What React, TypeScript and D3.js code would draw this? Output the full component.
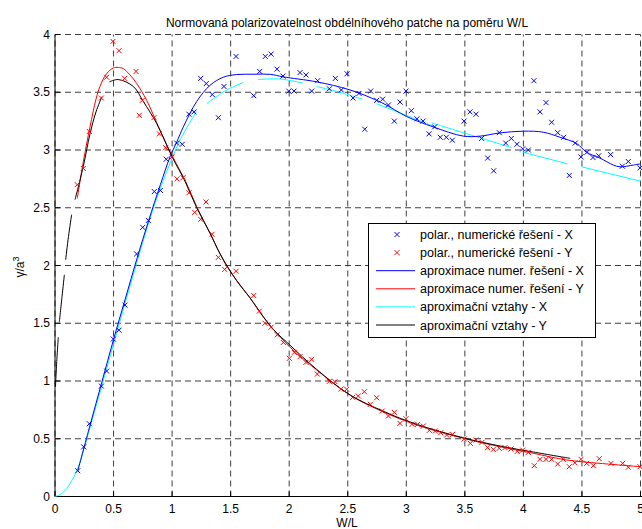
import React from 'react';
import * as d3 from 'd3';

type P = [number, number];

const titleText = 'Normovaná polarizovatelnost obdélníhového patche na poměru W/L';
const xLabel = 'W/L';
const xTicks = [0, 0.5, 1, 1.5, 2, 2.5, 3, 3.5, 4, 4.5, 5];
const yTicks = [0, 0.5, 1, 1.5, 2, 2.5, 3, 3.5, 4];

const legendLabels = [
  'polar., numerické řešení - X',
  'polar., numerické řešení - Y',
  'aproximace numer. řešení - X',
  'aproximace numer. řešení - Y',
  'aproximační vztahy - X',
  'aproximační vztahy - Y',
];

// numerical solution, X polarization (blue crosses)
const numX: P[] = [
  [0.194, 0.223], [0.245, 0.43], [0.293, 0.63], [0.396, 0.956], [0.441, 1.086], [0.498, 1.363],
  [0.547, 1.44], [0.598, 1.657], [0.697, 2.1], [0.749, 2.33], [0.797, 2.39], [0.848, 2.64],
  [0.9, 2.65], [0.95, 2.92], [1.039, 3.06], [1.087, 3.05], [1.144, 3.31], [1.187, 3.33],
  [1.244, 3.62], [1.292, 3.575], [1.343, 3.48], [1.395, 3.28], [1.443, 3.55], [1.546, 3.81],
  [1.697, 3.47], [1.748, 3.68], [1.796, 3.81], [1.845, 3.83], [1.896, 3.7], [1.947, 3.64],
  [1.996, 3.51], [2.041, 3.51], [2.092, 3.67], [2.143, 3.65], [2.192, 3.51], [2.243, 3.6],
  [2.343, 3.53], [2.394, 3.62], [2.445, 3.52], [2.494, 3.66], [2.545, 3.45], [2.596, 3.49],
  [2.645, 3.18], [2.696, 3.51], [2.747, 3.43], [2.798, 3.44], [2.847, 3.39], [2.898, 3.25],
  [2.947, 3.415], [2.997, 3.51], [3.043, 3.34], [3.091, 3.27], [3.143, 3.25], [3.194, 3.14],
  [3.242, 3.2], [3.29, 3.11], [3.342, 3.11], [3.393, 3.085], [3.493, 3.25], [3.544, 3.33],
  [3.595, 3.31], [3.643, 3.1], [3.695, 2.93], [3.746, 2.82], [3.794, 3.15], [3.849, 3.06],
  [3.897, 3.1], [3.945, 3.05], [3.994, 3.01], [4.042, 3.0], [4.09, 3.6], [4.142, 3.33],
  [4.193, 3.41], [4.241, 3.24], [4.293, 3.15], [4.344, 3.11], [4.392, 2.78], [4.443, 3.06],
  [4.492, 2.94], [4.543, 2.98], [4.594, 2.935], [4.643, 2.95], [4.745, 2.96], [4.845, 2.86],
  [4.896, 2.9], [4.996, 2.845],
];

// numerical solution, Y polarization (red crosses)
const numY: P[] = [
  [0.19, 2.7], [0.242, 2.84], [0.293, 3.16], [0.396, 3.45], [0.441, 3.63], [0.495, 3.94],
  [0.547, 3.86], [0.595, 3.62], [0.692, 3.68], [0.72, 3.3], [0.746, 3.43], [0.845, 3.28],
  [0.891, 3.14], [0.945, 3.02], [1.0, 2.94], [1.042, 2.75], [1.093, 2.76], [1.144, 2.63],
  [1.193, 2.46], [1.244, 2.4], [1.29, 2.55], [1.341, 2.27], [1.395, 2.07], [1.449, 1.966],
  [1.546, 1.95], [1.697, 1.74], [1.745, 1.605], [1.793, 1.5], [1.845, 1.465], [1.899, 1.4],
  [1.95, 1.334], [2.001, 1.196], [2.044, 1.248], [2.092, 1.21], [2.143, 1.161], [2.192, 1.187],
  [2.24, 1.06], [2.343, 0.997], [2.391, 0.994], [2.443, 0.93], [2.491, 0.928], [2.542, 0.858],
  [2.59, 0.87], [2.642, 0.907], [2.693, 0.798], [2.747, 0.855], [2.795, 0.74], [2.847, 0.697],
  [2.898, 0.728], [2.946, 0.633], [2.997, 0.673], [3.049, 0.625], [3.097, 0.625], [3.145, 0.61],
  [3.197, 0.573], [3.248, 0.567], [3.294, 0.552], [3.345, 0.532], [3.396, 0.538], [3.495, 0.498],
  [3.547, 0.46], [3.595, 0.489], [3.646, 0.469], [3.695, 0.423], [3.743, 0.408], [3.794, 0.417],
  [3.843, 0.423], [3.894, 0.411], [3.948, 0.391], [3.994, 0.402], [4.042, 0.382], [4.093, 0.267],
  [4.142, 0.322], [4.193, 0.322], [4.241, 0.322], [4.293, 0.281], [4.34, 0.322], [4.392, 0.258],
  [4.44, 0.292], [4.492, 0.322], [4.54, 0.287], [4.597, 0.267], [4.648, 0.327], [4.748, 0.287],
  [4.848, 0.287], [4.896, 0.253], [4.996, 0.258],
];

// fit of numerical solution, X (blue line)
const fitX: P[] = [
  [0.194, 0.22], [0.3, 0.62], [0.4, 0.99], [0.5, 1.36], [0.6, 1.71], [0.7, 2.06], [0.8, 2.39],
  [0.9, 2.7], [0.982, 2.94], [1.04, 3.07], [1.096, 3.2], [1.21, 3.42], [1.324, 3.56],
  [1.437, 3.63], [1.55, 3.653], [1.7, 3.656], [1.84, 3.655], [1.95, 3.633], [2.235, 3.59],
  [2.519, 3.52], [2.79, 3.41], [3.003, 3.29], [3.23, 3.2], [3.487, 3.12], [3.63, 3.12],
  [3.8, 3.148], [4.0, 3.163], [4.17, 3.154], [4.313, 3.11], [4.455, 3.056], [4.54, 2.98],
  [4.654, 2.93], [4.768, 2.87], [4.825, 2.854], [4.94, 2.87], [5.0, 2.88],
];

// fit of numerical solution, Y (red line)
const fitY: P[] = [
  [0.19, 2.58], [0.242, 2.9], [0.299, 3.2], [0.35, 3.44], [0.384, 3.55], [0.44, 3.66],
  [0.498, 3.71], [0.54, 3.715], [0.583, 3.705], [0.64, 3.65], [0.698, 3.575], [0.783, 3.43],
  [0.897, 3.17], [1.0, 2.95], [1.11, 2.74], [1.21, 2.51], [1.324, 2.28], [1.41, 2.1],
  [1.466, 1.995], [1.55, 1.873], [1.665, 1.72], [1.779, 1.556], [1.864, 1.447], [2.0, 1.3],
  [2.235, 1.095], [2.519, 0.878], [2.8, 0.734], [3.089, 0.619], [3.487, 0.504], [3.8, 0.431],
  [4.085, 0.374], [4.37, 0.316], [4.654, 0.287], [5.0, 0.258],
];

// approximation formulas, X (cyan segments)
const apprX: P[][] = [
  [[0, 0], [0.05, 0.02], [0.1, 0.07], [0.15, 0.15], [0.2, 0.26], [0.3, 0.6], [0.4, 0.96],
   [0.5, 1.32], [0.6, 1.68], [0.7, 2.03], [0.8, 2.37], [0.9, 2.67], [1.0, 2.93], [1.067, 3.085],
   [1.21, 3.34]],
  [[1.295, 3.4], [1.45, 3.51], [1.608, 3.585]],
  [[1.736, 3.61], [1.92, 3.615], [2.115, 3.58]],
  [[2.235, 3.55], [2.43, 3.5], [2.625, 3.44]],
  [[2.747, 3.4], [3.0, 3.3], [3.245, 3.2]],
  [[3.217, 3.235], [3.55, 3.13], [3.9, 3.02]],
  [[4.0, 2.98], [4.378, 2.88]],
  [[4.498, 2.854], [5.0, 2.73]],
];

// approximation formulas, Y (black segments)
const apprY: P[][] = [
  [[0.004, 0.95], [0.015, 1.17], [0.028, 1.38]],
  [[0.037, 1.51], [0.06, 1.73], [0.08, 1.92]],
  [[0.091, 2.05], [0.115, 2.25], [0.142, 2.44]],
  [[0.171, 2.57], [0.242, 2.86], [0.299, 3.14], [0.35, 3.33], [0.4, 3.46]],
  [[0.464, 3.59], [0.54, 3.61], [0.669, 3.55], [0.754, 3.42], [0.868, 3.23], [1.0, 2.94],
   [1.11, 2.73], [1.21, 2.5], [1.324, 2.28], [1.41, 2.1], [1.55, 1.87], [1.665, 1.72],
   [1.779, 1.556], [1.864, 1.447], [2.007, 1.31], [2.235, 1.1], [2.519, 0.88], [2.8, 0.74],
   [3.089, 0.625], [3.487, 0.508], [3.8, 0.437], [4.085, 0.385], [4.4, 0.33]],
];

const W = 642;
const H = 529;
const FONT = '"Liberation Sans", Arial, Helvetica, sans-serif';

export default function App() {
  const x = d3.scaleLinear().domain([0, 5]).range([55, 640.5]);
  const y = d3.scaleLinear().domain([0, 4]).range([496.5, 34.5]);
  const line = d3
    .line<P>()
    .x((d) => x(d[0]))
    .y((d) => y(d[1]))
    .curve(d3.curveCatmullRom.alpha(0.5));

  const cross = (cx: number, cy: number, color: string, key: string | number) => {
    const s = 2.5;
    return (
      <path
        key={key}
        d={`M${cx - s},${cy - s}L${cx + s},${cy + s}M${cx - s},${cy + s}L${cx + s},${cy - s}`}
        stroke={color}
        strokeWidth={1}
        fill="none"
      />
    );
  };

  const lx0 = 368.5, ly0 = 223.5, lw = 227, lh = 114;
  const rowY = (i: number) => 234.5 + i * 18.1;
  const legendStyles = [
    { kind: 'm', color: '#0000ff' },
    { kind: 'm', color: '#ff0000' },
    { kind: 'l', color: '#0000ff' },
    { kind: 'l', color: '#ff0000' },
    { kind: 'l', color: '#00ffff' },
    { kind: 'l', color: '#000000' },
  ];

  return (
    <svg
      width={W}
      height={H}
      style={{ position: 'absolute', left: 0, top: 0, display: 'block', background: '#fff' }}
      fontFamily={FONT}
    >
      <rect x={0} y={0} width={W} height={H} fill="#fff" />
      {/* grid */}
      <g stroke="#000" strokeWidth={1} strokeDasharray="6,4" opacity={0.75}>
        {xTicks.map((t) => (
          <line key={'gx' + t} x1={x(t)} x2={x(t)} y1={y(0)} y2={y(4)} />
        ))}
        {yTicks.map((t) => (
          <line key={'gy' + t} x1={x(0)} x2={x(5)} y1={y(t)} y2={y(t)} />
        ))}
      </g>
      {/* axes */}
      <line x1={x(0)} x2={x(0)} y1={y(0)} y2={y(4)} stroke="#000" />
      <line x1={x(0)} x2={W} y1={y(0)} y2={y(0)} stroke="#000" />
      {xTicks.map((t) => (
        <line key={'tx' + t} x1={x(t)} x2={x(t)} y1={y(0)} y2={y(0) - 5} stroke="#000" />
      ))}
      {yTicks.map((t) => (
        <line key={'ty' + t} x1={x(0)} x2={x(0) + 5} y1={y(t)} y2={y(t)} stroke="#000" />
      ))}
      {/* tick labels */}
      <g fontSize={12} fill="#000">
        {xTicks.map((t) => (
          <text key={'lx' + t} x={x(t)} y={513} textAnchor="middle">
            {String(t)}
          </text>
        ))}
        {yTicks.map((t) => (
          <text key={'ly' + t} x={50} y={y(t) + 4} textAnchor="end">
            {String(t)}
          </text>
        ))}
      </g>
      {/* curves */}
      <g fill="none" strokeWidth={1}>
        {apprX.map((seg, i) => (
          <path key={'cx' + i} d={line(seg) || ''} stroke="#00ffff" />
        ))}
        <path d={line(fitX) || ''} stroke="#0000ff" />
        <path d={line(fitY) || ''} stroke="#ff0000" />
        {apprY.map((seg, i) => (
          <path key={'cy' + i} d={line(seg) || ''} stroke="#000000" />
        ))}
      </g>
      {/* markers */}
      <g>
        {numX.map((d, i) => cross(x(d[0]), y(d[1]), '#0000ff', 'bx' + i))}
        {numY.map((d, i) => cross(x(d[0]), y(d[1]), '#ff0000', 'rx' + i))}
      </g>
      {/* title & labels */}
      <text x={347} y={27} textAnchor="middle" fontSize={12}>
        {titleText}
      </text>
      <text x={347} y={527} textAnchor="middle" fontSize={12}>
        {xLabel}
      </text>
      <text transform="translate(24,267) rotate(-90)" textAnchor="middle" fontSize={12}>
        γ/a
        <tspan dy={-5} fontSize={9}>
          3
        </tspan>
      </text>
      {/* legend */}
      <rect x={lx0} y={ly0} width={lw} height={lh} fill="#fff" stroke="#000" strokeWidth={1} />
      {legendLabels.map((lab, i) => {
        const st = legendStyles[i];
        const cy = rowY(i);
        return (
          <g key={'lg' + i}>
            {st.kind === 'm'
              ? cross(397, cy, st.color, 'lm' + i)
              : <line x1={376} x2={415} y1={cy} y2={cy} stroke={st.color} strokeWidth={1} />}
            <text x={420} y={cy + 4.5} fontSize={12.5}>
              {lab}
            </text>
          </g>
        );
      })}
    </svg>
  );
}
